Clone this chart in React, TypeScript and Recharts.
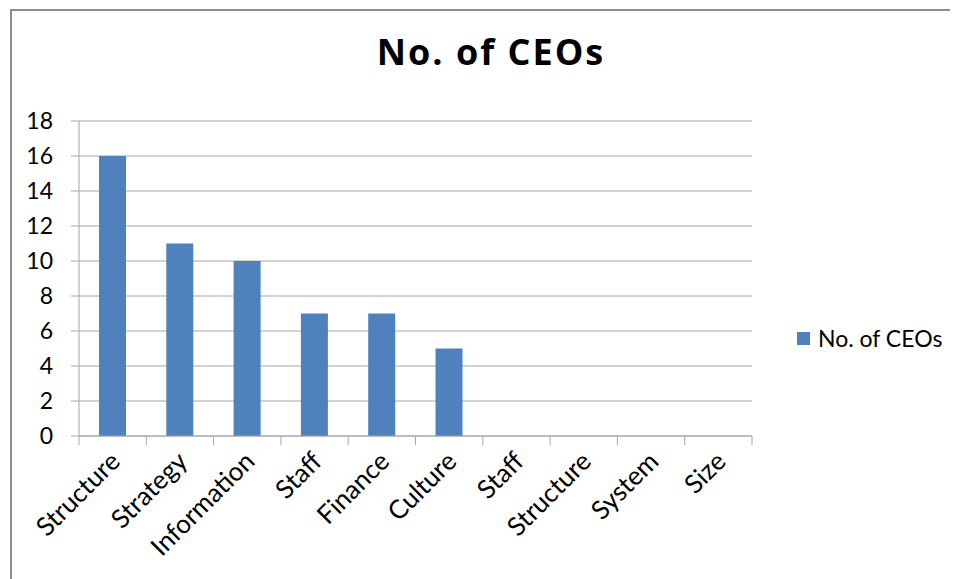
import { BarChart, Bar, XAxis, YAxis, CartesianGrid, Legend } from "recharts";

const categories = ["Structure", "Strategy", "Information", "Staff", "Finance", "Culture", "Staff", "Structure", "System", "Size"];
const ceoCounts = [16, 11, 10, 7, 7, 5, 0, 0, 0, 0];
const yTicks = [0, 2, 4, 6, 8, 10, 12, 14, 16, 18];

const data = categories.map((name, i) => ({ name, ceos: ceoCounts[i] }));

const FONT = "Lato, 'Open Sans', sans-serif";
const GRID = "#a6a6a6";
const BAR = "#4f81bd";

const CHART_W = 950;
const CHART_H = 571;
const MARGIN = { top: 113, right: 206, left: 0, bottom: 23 };
const Y_W = 71;
const PLOT_W = CHART_W - MARGIN.left - MARGIN.right - Y_W;
const BAND = PLOT_W / categories.length;

const XTick = ({ x, y, payload, index }: any) => (
  <g>
    {index === 0 && <line x1={x - BAND / 2} y1={y} x2={x - BAND / 2} y2={y + 9} stroke={GRID} />}
    <line x1={x + BAND / 2} y1={y} x2={x + BAND / 2} y2={y + 9} stroke={GRID} />
    <text
      x={x + 9}
      y={y + 27}
      transform={`rotate(-45, ${x + 9}, ${y + 27})`}
      textAnchor="end"
      fontSize={26}
      fontFamily={FONT}
      fill="#000"
    >
      {payload.value}
    </text>
  </g>
);

const LegendBox = () => (
  <div style={{ display: "flex", alignItems: "center", fontSize: 23, fontFamily: FONT, color: "#000" }}>
    <span style={{ width: 13, height: 13, background: BAR, marginRight: 8, display: "inline-block" }} />
    <span>No. of CEOs</span>
  </div>
);

export default function App() {
  return (
    <div style={{ position: "relative", width: CHART_W, height: CHART_H, fontFamily: FONT }}>
      <div
        style={{
          position: "absolute",
          left: 2,
          top: 1,
          width: CHART_W + 10,
          height: CHART_H + 10,
          borderLeft: "2px solid #8c8c8c",
          borderTop: "2px solid #8c8c8c",
        }}
      />
      <div
        style={{
          position: "absolute",
          left: 0,
          top: 19,
          width: 966,
          textAlign: "center",
          fontSize: 36,
          fontWeight: 700,
          letterSpacing: 2,
          fontFamily: "'Open Sans', Lato, sans-serif",
          color: "#000",
        }}
      >
        No. of CEOs
      </div>
      <div style={{ position: "absolute", left: 0, top: 0 }}>
        <BarChart width={CHART_W} height={CHART_H} data={data} margin={MARGIN} barSize={27}>
          <CartesianGrid vertical={false} stroke={GRID} />
          <XAxis
            dataKey="name"
            interval={0}
            tickLine={false}
            tickSize={0}
            tickMargin={0}
            axisLine={{ stroke: GRID }}
            tick={<XTick />}
            height={120}
          />
          <YAxis
            domain={[0, 18]}
            ticks={yTicks}
            width={Y_W}
            tickSize={8}
            tickMargin={18}
            axisLine={{ stroke: GRID }}
            tickLine={{ stroke: GRID }}
            tick={{ fontSize: 23, fill: "#000", fontFamily: FONT }}
          />
          <Legend
            verticalAlign="middle"
            align="center"
            layout="horizontal"
            content={<LegendBox />}
            wrapperStyle={{ left: 789, top: 316, width: 170 }}
          />
          <Bar dataKey="ceos" name="No. of CEOs" fill={BAR} isAnimationActive={false} />
        </BarChart>
      </div>
    </div>
  );
}
